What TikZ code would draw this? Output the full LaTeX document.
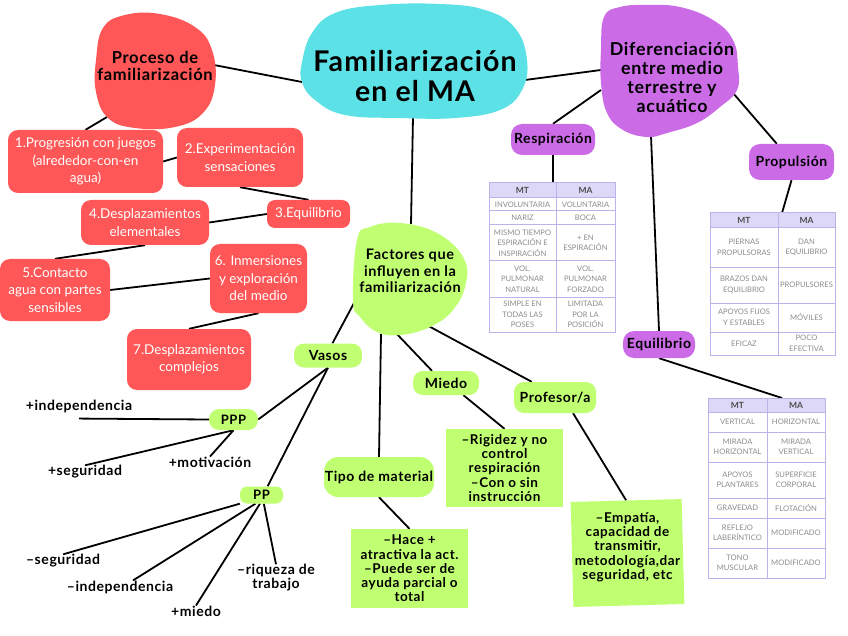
\documentclass[tikz,border=0pt]{standalone}
\usepackage{fontspec}
\setmainfont{Lato}
\newfontfamily\spc[LetterSpace=4]{Lato}
\usetikzlibrary{backgrounds}
\definecolor{cyanb}{HTML}{5CE1E6}
\definecolor{redb}{HTML}{FF5757}
\definecolor{purb}{HTML}{CB6CE6}
\definecolor{grnb}{HTML}{C1FF72}
\definecolor{theadc}{HTML}{DED8F8}
\definecolor{tlinec}{HTML}{BDB3EA}
\definecolor{ttextc}{HTML}{8C8C8C}
\begin{document}
\begin{tikzpicture}[x=1pt,y=-1pt,
  conn/.style={line width=1.8pt,black},
  blobtxt/.style={align=center,inner sep=0pt},
  rednode/.style={fill=redb,rounded corners=10pt,text=white,align=center,inner sep=0pt,font=\fontsize{13.5}{17.5}\selectfont},
  gnode/.style={fill=grnb,rounded corners=10pt,align=center,inner sep=0pt,font=\spc\bfseries\fontsize{14}{16}\selectfont},
  pnode/.style={fill=purb,rounded corners=11pt,align=center,inner sep=0pt,font=\spc\bfseries\fontsize{14}{16}\selectfont},
  gbox/.style={fill=grnb,inner sep=0pt},
  gboxtxt/.style={align=center,inner sep=0pt,font=\spc\bfseries\fontsize{13.5}{14.3}\selectfont},
  lbl/.style={align=center,inner sep=0pt,font=\spc\bfseries\fontsize{14}{14}\selectfont},
  tline/.style={draw=tlinec,line width=1pt},
  ttx/.style={text=ttextc,align=center,inner sep=0pt,font=\fontsize{7.6}{10.5}\selectfont},
  thd/.style={text=black!70,inner sep=0pt,font=\bfseries\fontsize{8.5}{10}\selectfont}
]
\useasboundingbox (0,0) rectangle (848,636);

% ---------- blobs ----------
\fill[cyanb] plot[smooth cycle, tension=0.7] coordinates {(302,62) (312,33) (335,13) (380,5) (440,4) (485,10) (515,28) (527,60) (522,90) (500,110) (455,118) (400,118) (345,115) (315,100) (302,82)};
\fill[redb] plot[smooth cycle, tension=0.7] coordinates {(96,60) (103,28) (125,15) (160,14) (195,27) (212,50) (215,85) (203,113) (175,127) (135,128) (108,118) (96,92)};
\fill[purb] plot[smooth cycle, tension=0.7] coordinates {(604,17) (620,7) (647,5) (680,7) (713,20) (733,40) (738,67) (737,90) (720,107) (697,123) (667,133) (647,137) (623,130) (607,113) (601,83) (601,50)};
\fill[grnb] plot[smooth cycle, tension=0.7] coordinates {(357,240) (370,227) (400,223) (437,233) (463,257) (466,283) (453,310) (430,327) (400,335) (377,332) (360,317) (353,300)};

\node[blobtxt,font=\spc\bfseries\fontsize{28.5}{30.5}\selectfont] (central) at (415,76) {Familiarización\\en el MA};
\node[blobtxt,font=\spc\bfseries\fontsize{16.5}{17.5}\selectfont] (proc) at (155,66) {Proceso de\\familiarización};
\node[blobtxt,font=\spc\bfseries\fontsize{17.8}{19}\selectfont] (dif) at (672,77) {Diferenciación\\entre medio\\terrestre y\\acuático};
\node[blobtxt,font=\spc\bfseries\fontsize{14.5}{16.5}\selectfont] (fact) at (410,271) {Factores que\\influyen en la\\familiarización};

% ---------- red nodes ----------
\node[rednode,minimum width=155pt,minimum height=63pt] (n1) at (85.5,161.5) {1.Progresión con juegos\\(alrededor-con-en\\agua)};
\node[rednode,minimum width=126pt,minimum height=59pt] (n2) at (240,157.5) {2.Experimentación\\sensaciones};
\node[rednode,minimum width=83pt,minimum height=28pt,rounded corners=8pt] (n3) at (308.5,214) {3.Equilibrio};
\node[rednode,minimum width=128pt,minimum height=45pt] (n4) at (145,222.5) {4.Desplazamientos\\elementales};
\node[rednode,minimum width=110pt,minimum height=62pt] (n5) at (55,290) {5.Contacto\\agua con partes\\sensibles};
\node[rednode,minimum width=97pt,minimum height=69pt] (n6) at (258.5,278.5) {6. Inmersiones\\y exploración\\del medio};
\node[rednode,minimum width=124pt,minimum height=61pt] (n7) at (189,359.5) {7.Desplazamientos\\complejos};

% ---------- purple nodes ----------
\node[pnode,minimum width=84pt,minimum height=31pt] (resp) at (553,139.5) {Respiración};
\node[pnode,minimum width=85pt,minimum height=36pt] (prop) at (791.5,162) {Propulsión};
\node[pnode,minimum width=72pt,minimum height=27pt] (eqb) at (659,344.5) {Equilibrio};

% ---------- green nodes ----------
\node[gnode,minimum width=68pt,minimum height=24pt] (vasos) at (328,355.5) {Vasos};
\node[gnode,minimum width=49pt,minimum height=21pt,font=\spc\bfseries\fontsize{13}{14}\selectfont] (ppp) at (233.5,419.5) {PPP};
\node[gnode,minimum width=43pt,minimum height=17pt,rounded corners=7pt,font=\spc\bfseries\fontsize{13}{14}\selectfont] (pp) at (261.5,495) {PP};
\node[gnode,minimum width=66pt,minimum height=24pt] (miedo) at (446,383) {Miedo};
\node[gnode,minimum width=82pt,minimum height=31pt] (prof) at (555,397.5) {Profesor/a};
\node[gnode,minimum width=110pt,minimum height=40pt,rounded corners=14pt] (tipo) at (379,477) {Tipo de material};

% ---------- green boxes ----------
\node[gbox,minimum width=117pt,minimum height=78pt] (mbox) at (504.5,468) {};
\node[gboxtxt] (mboxt) at (504.5,468) {–Rigidez y no\\control\\respiración\\–Con o sin\\instrucción};
\node[gbox,minimum width=117pt,minimum height=79pt] (tbox) at (409.5,568.5) {};
\node[gboxtxt] (tboxt) at (409.5,568.5) {–Hace +\\atractiva la act.\\–Puede ser de\\ayuda parcial o\\total};
\node[gbox,minimum width=111pt,minimum height=105pt,rotate=1.5] (pbox) at (627.5,553) {};
\node[gboxtxt] (pboxt) at (627.5,547) {–Empatía,\\capacidad de\\transmitir,\\metodología,dar\\seguridad, etc};

% ---------- labels ----------
\node[lbl] (lindep) at (79,406) {+independencia};
\node[lbl] (lseg) at (85,472) {+seguridad};
\node[lbl] (lmot) at (210,462) {+motivación};
\node[lbl] (lmseg) at (63,561) {–seguridad};
\node[lbl] (lmind) at (120,587) {–independencia};
\node[lbl] (lmmie) at (196,611) {+miedo};
\node[lbl] (lmriq) at (276,578) {–riqueza de\\trabajo};

% ---------- tables ----------
% table 1
\fill[theadc] (489,183) rectangle (615,198);
\draw[tline] (489,183) rectangle (615,332);
\foreach \yy in {198,211,225,261,297} \draw[tline] (489,\yy) -- (615,\yy);
\draw[tline] (556,183) -- (556,332);
\node[thd] (t1h1) at (522.5,190.5) {MT};
\node[thd] (t1h2) at (585.5,190.5) {MA};
\node[ttx] (t1a1) at (522.5,204.5) {INVOLUNTARIA};
\node[ttx] (t1b1) at (585.5,204.5) {VOLUNTARIA};
\node[ttx] (t1a2) at (522.5,218) {NARIZ};
\node[ttx] (t1b2) at (585.5,218) {BOCA};
\node[ttx] (t1a3) at (522.5,243) {MISMO TIEMPO\\ESPIRACIÓN E\\INSPIRACIÓN};
\node[ttx] (t1b3) at (585.5,243) {+ EN\\ESPIRACIÓN};
\node[ttx] (t1a4) at (522.5,279) {VOL.\\PULMONAR\\NATURAL};
\node[ttx] (t1b4) at (585.5,279) {VOL.\\PULMONAR\\FORZADO};
\node[ttx] (t1a5) at (522.5,314.5) {SIMPLE EN\\TODAS LAS\\POSES};
\node[ttx] (t1b5) at (585.5,314.5) {LIMITADA\\POR LA\\POSICIÓN};
\coordinate (t1) at (553,183);
% table 2
\fill[theadc] (710,213) rectangle (835,228);
\draw[tline] (710,213) rectangle (835,355);
\foreach \yy in {228,267,303,332} \draw[tline] (710,\yy) -- (835,\yy);
\draw[tline] (778,213) -- (778,355);
\node[thd] (t2h1) at (744,220.5) {MT};
\node[thd] (t2h2) at (806.5,220.5) {MA};
\node[ttx] (t2a1) at (744,247.5) {PIERNAS\\PROPULSORAS};
\node[ttx] (t2b1) at (806.5,247.5) {DAN\\EQUILIBRIO};
\node[ttx] (t2a2) at (744,285) {BRAZOS DAN\\EQUILIBRIO};
\node[ttx] (t2b2) at (806.5,285) {PROPULSORES};
\node[ttx] (t2a3) at (744,317.5) {APOYOS FIJOS\\Y ESTABLES};
\node[ttx] (t2b3) at (806.5,317.5) {MÓVILES};
\node[ttx] (t2a4) at (744,343.5) {EFICAZ};
\node[ttx] (t2b4) at (806.5,343.5) {POCO\\EFECTIVA};
\coordinate (t2) at (782,213);
% table 3
\fill[theadc] (708,398) rectangle (825,412);
\draw[tline] (708,398) rectangle (825,578);
\foreach \yy in {412,432,462,498,518,548} \draw[tline] (708,\yy) -- (825,\yy);
\draw[tline] (767,398) -- (767,578);
\node[thd] (t3h1) at (737.5,405) {MT};
\node[thd] (t3h2) at (796,405) {MA};
\node[ttx] (t3a1) at (737.5,422) {VERTICAL};
\node[ttx] (t3b1) at (796,422) {HORIZONTAL};
\node[ttx] (t3a2) at (737.5,447) {MIRADA\\HORIZONTAL};
\node[ttx] (t3b2) at (796,447) {MIRADA\\VERTICAL};
\node[ttx] (t3a3) at (737.5,480) {APOYOS\\PLANTARES};
\node[ttx] (t3b3) at (796,480) {SUPERFICIE\\CORPORAL};
\node[ttx] (t3a4) at (737.5,508) {GRAVEDAD};
\node[ttx] (t3b4) at (796,508) {FLOTACIÓN};
\node[ttx] (t3a5) at (737.5,533) {REFLEJO\\LABERÍNTICO};
\node[ttx] (t3b5) at (796,533) {MODIFICADO};
\node[ttx] (t3a6) at (737.5,563) {TONO\\MUSCULAR};
\node[ttx] (t3b6) at (796,563) {MODIFICADO};
\coordinate (t3) at (782,398);

% ---------- blob edge points ----------
\coordinate (cL) at (302,82);
\coordinate (pR) at (214,65);
\coordinate (pB) at (107,117);
\coordinate (cB) at (413,117);
\coordinate (fT) at (411,224);
\coordinate (cR) at (525,80);
\coordinate (dL) at (601,70);
\coordinate (dLb) at (601,90);
\coordinate (dR) at (733,93);
\coordinate (dB) at (651,136);
\coordinate (fL) at (354,303);
\coordinate (fB) at (381,334);
\coordinate (fB2) at (395,332);
\coordinate (fR) at (423,323);

% ---------- connectors ----------
\begin{scope}[on background layer]
\fill[white] (0,0) rectangle (848,636);
\draw[conn] (pR) -- (cL);
\draw[conn] (pB) -- (n1.north);
\draw[conn] (n1.east) -- (n2.west);
\draw[conn] (n2.south) -- (n3.north);
\draw[conn] (n3.west) -- (n4.east);
\draw[conn] (n4.south) -- (n5.north);
\draw[conn] (n5.east) -- (n6.west);
\draw[conn] (n6.south) -- (n7.north);
\draw[conn] (cB) -- (fT);
\draw[conn] (cR) -- (dL);
\draw[conn] (dLb) -- (resp.north);
\draw[conn] (resp.south) -- (t1);
\draw[conn] (dR) -- (prop.129);
\draw[conn] (prop.south) -- (t2);
\draw[conn] (dB) -- (eqb.north);
\draw[conn] (eqb.south) -- (t3);
\draw[conn] (fL) -- (vasos.70);
\draw[conn] (fB) -- (tipo.north);
\draw[conn] (fB2) -- (miedo.139);
\draw[conn] (fR) -- (prof.146);
\draw[conn] (miedo.-35) -- (mbox.north);
\draw[conn] (prof.-41) -- (pbox.north);
\draw[conn] (tipo.south) -- (tbox.north);
\draw[conn] (vasos.south) -- (ppp.east);
\draw[conn] (vasos.south) -- (pp.55);
\draw[conn] (ppp.west) -- ([yshift=-6pt]lindep.south);
\draw[conn] (ppp.south) -- (lseg.north);
\draw[conn] (ppp.south) -- (lmot.north);
\draw[conn] (pp.south west) -- (lmseg.north);
\draw[conn] (pp.-125) -- ([xshift=13pt]lmind.north);
\draw[conn] (pp.-100) -- (lmmie.north);
\draw[conn] (pp.-75) -- (lmriq.north);
\end{scope}
\end{tikzpicture}
\end{document}
